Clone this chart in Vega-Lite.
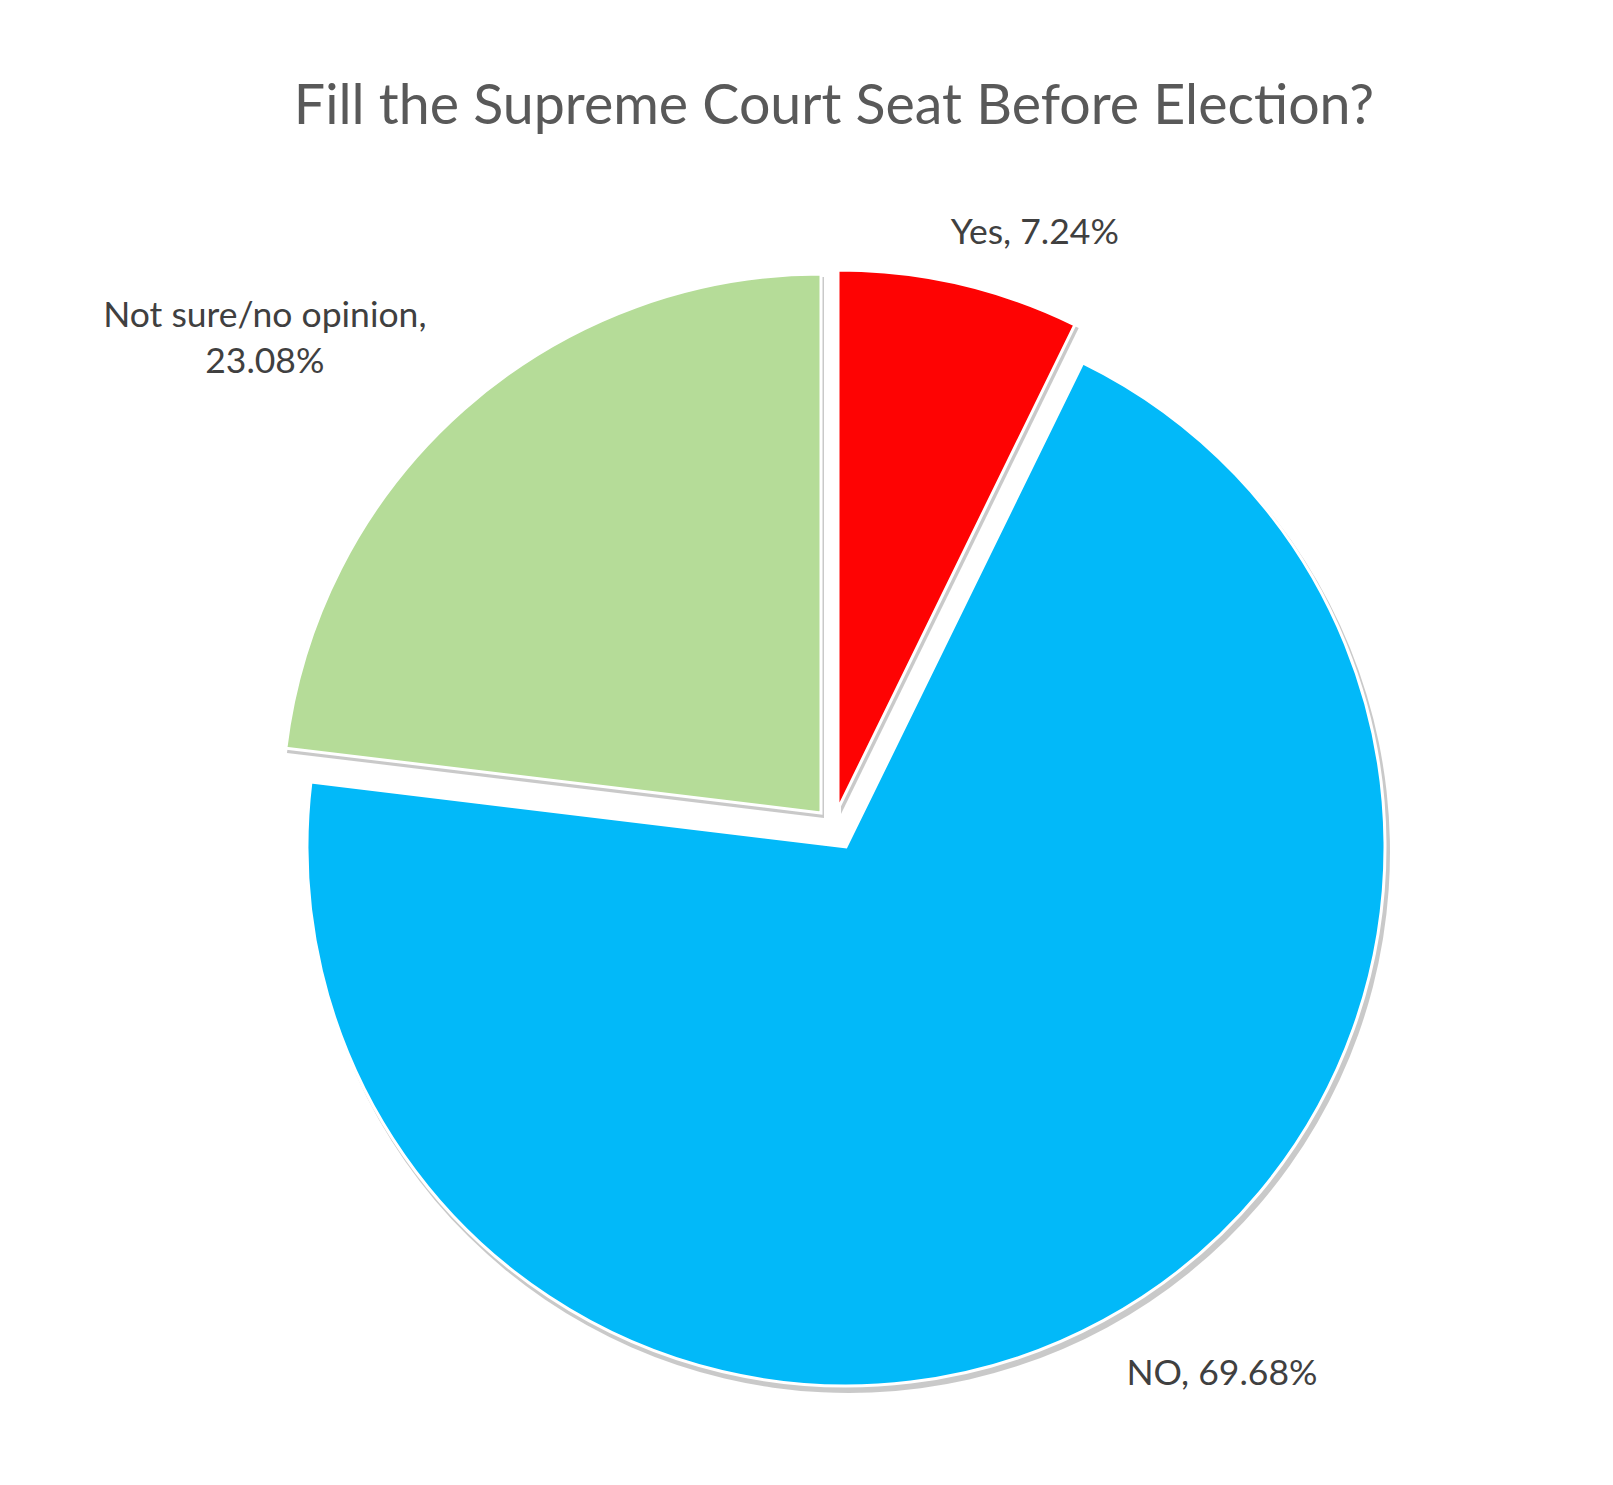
{
  "$schema": "https://vega.github.io/schema/vega-lite/v6.json",
  "width": 1300,
  "height": 1296,
  "padding": {"left": 184, "right": 129, "top": 180, "bottom": 9},
  "autosize": {"type": "none"},
  "background": "white",
  "config": {"view": {"stroke": null}},
  "title": {
    "text": "Fill the Supreme Court Seat Before Election?",
    "anchor": "middle",
    "frame": "group",
    "font": "Lato",
    "fontSize": 55.5,
    "fontWeight": "normal",
    "color": "#595959",
    "offset": 45
  },
  "data": {
    "values": [
      {"category": "Yes", "value": 7.24},
      {"category": "NO", "value": 69.68},
      {"category": "Not sure/no opinion", "value": 23.08}
    ]
  },
  "transform": [
    {"window": [{"op": "sum", "field": "value", "as": "cum_end"}], "frame": [null, 0]},
    {"calculate": "datum.cum_end - datum.value", "as": "cum_start"},
    {"calculate": "(datum.cum_start + datum.cum_end) / 2", "as": "mid"},
    {"calculate": "datum.category + ', ' + format(datum.value, '.2f') + '%'", "as": "label"}
  ],
  "layer": [
    {
      "transform": [{"filter": "datum.category === 'Not sure/no opinion'"}],
      "mark": {"type": "arc", "radius": 541, "xOffset": -10, "yOffset": -10, "fill": "#777777", "opacity": 0.4},
      "encoding": {
        "theta": {"field": "cum_start", "type": "quantitative", "scale": {"domain": [0, 100], "range": [0, 6.283185307179586]}},
        "theta2": {"field": "cum_end"}
      }
    },
    {
      "transform": [{"filter": "datum.category === 'Not sure/no opinion'"}],
      "mark": {"type": "arc", "radius": 539, "xOffset": -13, "yOffset": -15, "fill": "#B5DC98", "stroke": "white", "strokeWidth": 3},
      "encoding": {
        "theta": {"field": "cum_start", "type": "quantitative"},
        "theta2": {"field": "cum_end"}
      }
    },
    {
      "transform": [{"filter": "datum.category === 'Yes'"}],
      "mark": {"type": "arc", "radius": 541, "xOffset": 7, "yOffset": -14, "fill": "#777777", "opacity": 0.4},
      "encoding": {
        "theta": {"field": "cum_start", "type": "quantitative"},
        "theta2": {"field": "cum_end"}
      }
    },
    {
      "transform": [{"filter": "datum.category === 'Yes'"}],
      "mark": {"type": "arc", "radius": 539, "xOffset": 4, "yOffset": -19, "fill": "#FE0303", "stroke": "white", "strokeWidth": 3},
      "encoding": {
        "theta": {"field": "cum_start", "type": "quantitative"},
        "theta2": {"field": "cum_end"}
      }
    },
    {
      "transform": [{"filter": "datum.category === 'NO'"}],
      "mark": {"type": "arc", "radius": 541, "xOffset": 15, "yOffset": 24, "fill": "#777777", "opacity": 0.4},
      "encoding": {
        "theta": {"field": "cum_start", "type": "quantitative"},
        "theta2": {"field": "cum_end"}
      }
    },
    {
      "transform": [{"filter": "datum.category === 'NO'"}],
      "mark": {"type": "arc", "radius": 539, "xOffset": 12, "yOffset": 19, "fill": "#02B9F9", "stroke": "white", "strokeWidth": 3},
      "encoding": {
        "theta": {"field": "cum_start", "type": "quantitative"},
        "theta2": {"field": "cum_end"}
      }
    },
    {
      "transform": [{"filter": "datum.category === 'Yes'"}],
      "mark": {"type": "text", "radius": 620, "dx": 61, "dy": 9, "font": "Lato", "fontSize": 35.5, "color": "#404040", "align": "center", "baseline": "middle"},
      "encoding": {
        "theta": {"field": "mid", "type": "quantitative"},
        "text": {"field": "label"}
      }
    },
    {
      "transform": [{"filter": "datum.category === 'NO'"}],
      "mark": {"type": "text", "radius": 620, "dx": 92, "dy": 1, "font": "Lato", "fontSize": 35.5, "color": "#404040", "align": "center", "baseline": "middle"},
      "encoding": {
        "theta": {"field": "mid", "type": "quantitative"},
        "text": {"field": "label"}
      }
    },
    {
      "transform": [
        {"filter": "datum.category === 'Not sure/no opinion'"},
        {"calculate": "datum.category + ',\\n' + format(datum.value, '.2f') + '%'", "as": "label2"}
      ],
      "mark": {"type": "text", "radius": 620, "dx": -158, "dy": -48, "font": "Lato", "fontSize": 35.5, "color": "#404040", "align": "center", "baseline": "middle", "lineBreak": "\n", "lineHeight": 46},
      "encoding": {
        "theta": {"field": "mid", "type": "quantitative"},
        "text": {"field": "label2"}
      }
    }
  ]
}
